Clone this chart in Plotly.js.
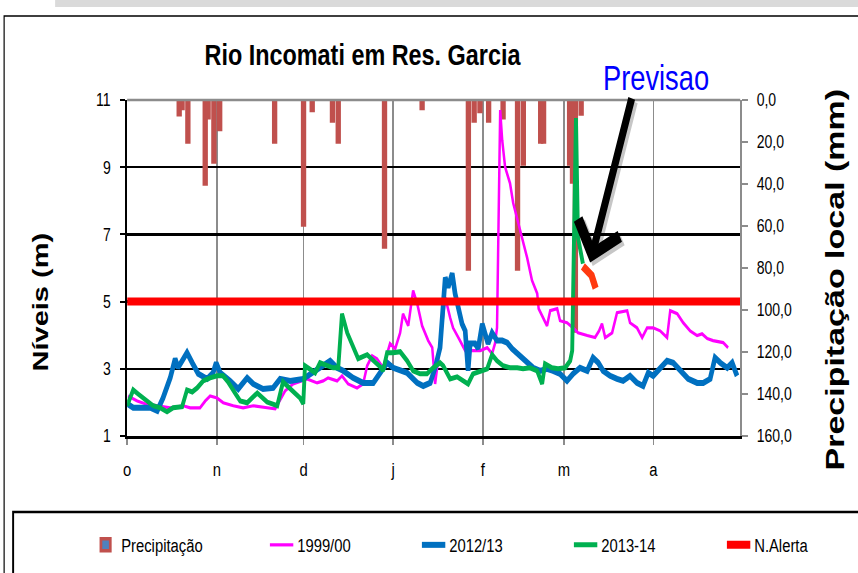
<!DOCTYPE html>
<html><head><meta charset="utf-8">
<script src="https://cdn.plot.ly/plotly-3.0.1.min.js"></script>
<style>
html,body{margin:0;padding:0;background:#fff;overflow:hidden;}
#wrap{width:858px;height:573px;overflow:hidden;position:relative;}
#chart{width:1100px;height:573px;transform:scaleX(0.78);transform-origin:0 0;}
</style></head><body>
<div id="wrap"><div id="chart"></div></div>
<script>
// ---------- data ----------
const monthStarts = [0, 31, 61, 92, 123, 151, 182];
const monthLabels = ['o', 'n', 'd', 'j', 'f', 'm', 'a'];
const seasonDays = 212;
const alertLevel = 5;

const precipDay = [18,19,21,27,28,30,32,51,61,64,71,73,89,102,118,120,122,125,130,135,137,143,144,153,154,155,157];
const precipMm  = [7,4,20,40,8.5,29.5,14,20,59.5,5,10,20,70,4,80.5,10,5.5,10,8.5,80.5,30.5,20,20,30.5,39,110,6.7];

const s9900Day = [0.3,3.5,6.2,11.4,14.9,19.4,21.8,25.2,27,28.7,31.1,33.2,36.7,40.1,43.6,48.4,51.2,54.6,57.4,62.2,65.7,67.8,69.5,72.6,74.3,76.4,79.5,81.6,83,84.7,86.4,88.5,90.9,92.7,94.4,95.4,97.2,98.9,100.3,102,104.1,105.5,106.5,107.5,108.9,110,111.7,112.7,115.1,116.9,119.3,122.1,124.5,126.2,127.2,127.9,129,129.7,130.7,132.4,133.5,135.9,138.3,140,141.8,142.3,145.2,146.3,148.7,149.7,152.1,154.2,155.9,159.1,161.8,163.2,164.2,165.3,167.7,169.4,172.9,173.9,176.3,178.1,179.8,181.9,184.3,186.7,187.8,190.2,192.3,194.7,197.1,198.8,200.6,202.6,206.1,207.8];
const s9900Lvl = [2.19,2.04,1.96,1.9,1.84,1.9,1.84,1.84,2.04,2.19,2.13,1.99,1.9,1.84,1.9,1.84,1.81,2.34,2.55,2.7,2.58,2.64,2.73,2.64,2.79,2.55,2.43,2.55,3.09,3.39,3.3,3.03,3.75,3.6,4.07,4.64,4.28,5.33,4.94,4.28,3.84,3.63,2.55,3.24,4.22,5.12,4.52,4.22,3.84,3.54,3.54,3.54,3.63,3.45,3.75,4.22,10.7,9.8,9.0,8.52,7.93,7.12,6.31,5.63,5.24,4.79,4.28,4.73,4.79,4.43,4.37,4.22,4.07,3.99,3.93,4.13,4.34,3.93,4.07,4.67,4.73,4.37,4.22,3.93,4.22,4.22,4.13,3.93,4.73,4.64,4.37,4.13,3.99,4.04,3.9,3.84,3.78,3.63];

const s1213Day = [0,2.1,5.5,8,10.4,12.4,14.9,16.6,17.6,19,20.7,22.5,24.6,27.7,29.7,30.8,32.2,35.6,38.4,41.5,43.6,47,50.5,52.9,56.4,60.9,64.3,67.8,70.2,72.6,74.7,78.1,81.6,85.1,87.5,89.9,92,94.4,96.8,100.3,102.4,104.8,106.5,108.2,110,111,112.4,113.4,114.5,115.8,116.9,117.9,118.6,120.3,121.4,122.8,123.8,124.8,126.2,127.9,129.7,131.4,133.1,134.9,136.6,138.3,140.4,142.8,145.2,147.3,149.7,152.1,154.2,156.6,159.1,161.1,162.9,164.6,167,169.4,171.5,173.9,176.3,178.4,180.2,181.9,184.3,186.7,188.8,191.2,194,197.1,199.2,201.6,203.3,205.1,207.5,209.2,210.9];
const s1213Lvl = [1.96,1.84,1.84,1.84,1.75,2.13,2.73,3.3,3.03,3.24,3.48,3.18,2.85,2.7,2.88,3.18,2.88,2.64,2.4,2.73,2.55,2.4,2.43,2.7,2.64,2.7,2.88,3.09,3.24,3.03,2.94,2.73,2.58,2.58,2.85,3.18,3.03,2.94,2.88,2.58,2.49,2.58,3.03,3.63,5.72,5.42,5.84,5.24,4.82,4.34,4.13,2.94,3.75,3.75,3.6,4.34,4.04,3.75,4.07,3.84,3.84,3.78,3.6,3.45,3.3,3.15,3.03,2.94,3.0,2.94,2.85,2.64,2.85,3.03,2.94,3.33,3.18,2.94,2.79,2.7,2.64,2.79,2.58,2.49,2.88,2.79,3.03,3.24,3.18,2.94,2.7,2.58,2.58,2.7,3.33,3.18,3.03,3.18,2.79];

const s1314Day = [0,2.1,3.8,6.2,9,11.4,13.8,15.9,19,20.7,22.5,24.2,26.3,28.7,31.1,33.2,34.9,37.3,39.1,41.5,45,48.4,51.9,53.9,55.7,57.4,59.8,60.9,61.5,64,65,66.7,69.2,71.2,73,74.3,76.1,78.1,79.9,83,85.1,87.5,88.5,89.9,92,94.4,96.8,98.9,101.3,103.7,105.8,108.2,109.3,111.7,114.1,116.2,117.9,119.6,122.1,124.5,126.2,127.9,130,132.4,134.9,136.9,139.3,141.8,143.5,144.5,146.9,149,151.5,153.2,153.9,155.2,155.9,156.6,157.6];
const s1314Lvl = [1.9,2.37,2.25,2.1,1.9,1.84,1.72,1.84,1.87,2.37,2.31,2.43,2.64,2.73,2.79,2.79,2.61,2.28,2.04,1.99,2.28,2.01,1.9,2.61,2.46,2.34,2.13,1.96,3.09,2.94,2.88,3.18,3.09,3.03,3.03,4.64,4.07,3.69,3.3,3.42,3.27,3.06,2.94,3.48,3.48,3.51,3.24,2.94,2.85,2.85,3.03,3.18,3.09,2.7,2.76,2.64,2.55,2.85,2.91,3.0,3.42,3.24,3.09,3.03,3.03,3.0,3.03,2.94,2.55,3.15,3.03,3.0,3.03,3.24,3.54,10.46,6.91,6.52,6.13];

const forecastDay = [157.6,159.3,160.6,162.0];
const forecastLvl = [6.05,5.85,5.78,5.4];

// ---------- geometry helpers (picture is horizontally compressed) ----------
const SX = 0.78;
const W = 858 / SX, H = 573;
const ux = px => px / SX;
const L = ux(127), R = W - ux(740), T = 100, B = 573 - 436;
const PW = W - L - R, PH = H - T - B;
const pxX = px => (ux(px) - L) / PW;
const pxY = py => (436 - py) / PH;

const FONT = 'Arial, "Liberation Sans", sans-serif';

const traces = [
  {type:'bar', x:precipDay, y:precipMm, name:'Precipitação', yaxis:'y', width:0.9, legend:'legend',
   marker:{color:'#4F81BD', line:{color:'#C0504D', width:3.5}}},
  {type:'scatter', mode:'lines', x:s9900Day, y:s9900Lvl, name:'1999/00', yaxis:'y2', legend:'legend2',
   line:{color:'#FF00FF', width:3.2}},
  {type:'scatter', mode:'lines', x:s1213Day, y:s1213Lvl, name:'2012/13', yaxis:'y2', legend:'legend3',
   line:{color:'#0070C0', width:6}},
  {type:'scatter', mode:'lines', x:s1314Day, y:s1314Lvl, name:'2013-14', yaxis:'y2', legend:'legend4',
   line:{color:'#00B050', width:5}},
  {type:'scatter', mode:'lines', x:[0, seasonDays], y:[alertLevel, alertLevel], name:'N.Alerta', yaxis:'y2', legend:'legend5',
   line:{color:'#FF0000', width:8}},
  {type:'scatter', mode:'lines', x:forecastDay, y:forecastLvl, name:'Previsao', yaxis:'y2', showlegend:false,
   line:{color:'#FF3A10', width:8}}
];

function legendAt(px){
  return {orientation:'h', xref:'container', yref:'container', x:ux(px)/W, xanchor:'left',
          y:1 - 545/H, yanchor:'middle', font:{size:19, family:FONT, color:'#000'},
          bgcolor:'rgba(0,0,0,0)'};
}

const layout = {
  width: W, height: H,
  margin: {l:L, r:R, t:T, b:B, autoexpand:false},
  paper_bgcolor:'#fff', plot_bgcolor:'#fff',
  separators: ', ',
  font: {family: FONT, color:'#000', size:18},
  showlegend: true,
  title: {text:'Rio Incomati em Res. Garcia', x: ux(362.5)/W, xanchor:'center', y: 1 - 55/H, yanchor:'middle',
          font:{size:30, weight:'bold', family:FONT, color:'#000'}},
  xaxis: {range:[0, seasonDays], tickmode:'array', tickvals:monthStarts, ticktext:monthLabels,
          showgrid:true, gridcolor:'#8c8c8c', gridwidth:2, zeroline:false,
          showline:true, linecolor:'#000', linewidth:2.5,
          ticks:'outside', ticklen:6, tickcolor:'#8c8c8c', tickwidth:2,
          ticklabelstandoff:9, tickfont:{size:19}},
  yaxis: {range:[160, 0], side:'right', tickmode:'array', tickvals:[0,20,40,60,80,100,120,140,160],
          tickformat:'.1f', showgrid:false, zeroline:false,
          showline:true, linecolor:'#8c8c8c', linewidth:2.5,
          ticks:'outside', ticklen:7, tickcolor:'#8c8c8c', tickwidth:2, ticklabelstandoff:8,
          tickfont:{size:18}},
  yaxis2: {range:[1, 11], overlaying:'y', side:'left', tickmode:'array', tickvals:[1,3,5,7,9,11],
          showgrid:true, gridcolor:'#000', gridwidth:2.5, zeroline:false,
          showline:true, linecolor:'#000', linewidth:2.5,
          ticks:'outside', ticklen:7, tickcolor:'#000', tickwidth:2, ticklabelstandoff:8,
          tickfont:{size:18}},
  legend: legendAt(90),
  legend2: legendAt(266),
  legend3: legendAt(418),
  legend4: legendAt(570),
  legend5: legendAt(723),
  shapes: [
    {type:'rect', xref:'paper', yref:'paper', x0:pxX(55), x1:pxX(900), y0:pxY(7), y1:pxY(-2),
     fillcolor:'#dadada', line:{width:0}, layer:'below'},
    {type:'rect', xref:'paper', yref:'paper', x0:pxX(4), x1:pxX(900), y0:pxY(620), y1:pxY(16),
     fillcolor:'rgba(0,0,0,0)', line:{color:'#000', width:1.5}},
    {type:'rect', xref:'paper', yref:'paper', x0:pxX(13), x1:pxX(900), y0:pxY(620), y1:pxY(512),
     fillcolor:'rgba(0,0,0,0)', line:{color:'#000', width:2.5}},
    {type:'line', xref:'paper', yref:'paper', x0:0, x1:1, y0:1, y1:1, line:{color:'#8c8c8c', width:2.5}}
  ],
  annotations: [
    {xref:'paper', yref:'paper', x:pxX(40), y:pxY(302), text:'Níveis (m)', textangle:-90, showarrow:false,
     xanchor:'center', yanchor:'middle', font:{size:29, weight:'bold', family:FONT, color:'#000'}},
    {xref:'paper', yref:'paper', x:pxX(834), y:pxY(280), text:'Precipitação local (mm)', textangle:-90, showarrow:false,
     xanchor:'center', yanchor:'middle', font:{size:34, weight:'bold', family:FONT, color:'#000'}},
    {xref:'paper', yref:'paper', x:pxX(656), y:pxY(77), text:'Previsao', showarrow:false,
     xanchor:'center', yanchor:'middle', font:{size:35, family:FONT, color:'#0000FF'}},
    {xref:'x', yref:'y2', x:161.0, y:6.06, axref:'x', ayref:'y2', ax:175.5, ay:10.99, text:'',
     showarrow:true, arrowhead:4, arrowwidth:9, arrowsize:1.2, arrowcolor:'rgba(0,0,0,0.22)', standoff:0},
    {xref:'x', yref:'y2', x:160.1, y:6.16, axref:'x', ayref:'y2', ax:174.6, ay:11.09, text:'',
     showarrow:true, arrowhead:4, arrowwidth:9, arrowsize:1.2, arrowcolor:'#000', standoff:0}
  ]
};

Plotly.newPlot('chart', traces, layout, {staticPlot:true, displayModeBar:false});
</script>
</body></html>
